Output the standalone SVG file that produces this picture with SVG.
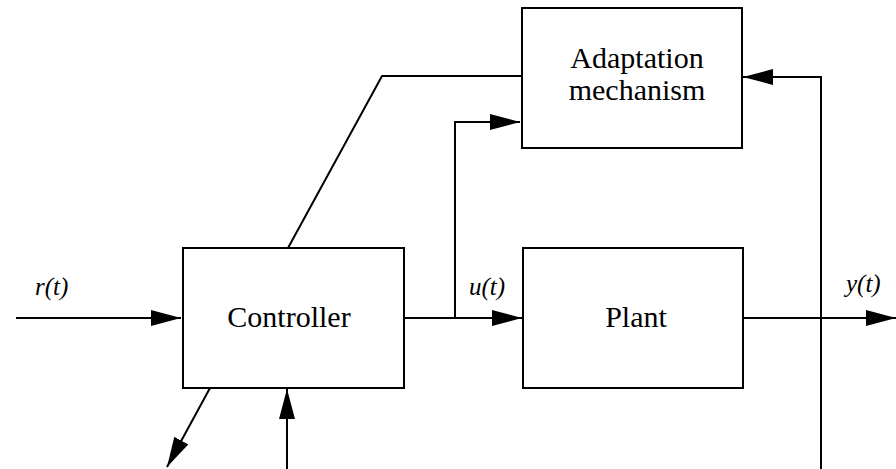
<svg xmlns="http://www.w3.org/2000/svg" width="896" height="469" viewBox="0 0 896 469">
  <style>
    .box { fill: #fff; stroke: #000; stroke-width: 2; }
    .wire { fill: none; stroke: #000; stroke-width: 2; }
    text { font-family: 'Liberation Serif', 'Times New Roman', serif; fill: #000; }
    .label { font-size: 30px; text-anchor: middle; }
    .sig { font-size: 25px; font-style: italic; }
  </style>
  <defs>
    <marker id="arrow" markerUnits="userSpaceOnUse" markerWidth="30" markerHeight="16" viewBox="0 0 30 16" refX="30" refY="8" orient="auto">
      <path d="M0,0 L30,8 L0,16 Z" fill="#000"/>
    </marker>
  </defs>

  <rect width="896" height="469" fill="#fff"/>

  <!-- connectors -->
  <g id="connectors">
    <!-- reference input -->
    <line class="wire" x1="16" y1="318" x2="181" y2="318" marker-end="url(#arrow)"/>
    <!-- control signal to plant -->
    <line class="wire" x1="404" y1="318" x2="522" y2="318" marker-end="url(#arrow)"/>
    <!-- control signal branch to adaptation -->
    <polyline class="wire" points="455,318 455,122 520,122" marker-end="url(#arrow)"/>
    <!-- parameter link between controller and adaptation -->
    <polyline class="wire" points="288,248 382,76 522,76"/>
    <!-- plant output -->
    <line class="wire" x1="742" y1="318" x2="896" y2="318" marker-end="url(#arrow)"/>
    <!-- output feedback to adaptation -->
    <polyline class="wire" points="821,469 821,77 743,77" marker-end="url(#arrow)"/>
    <!-- controller bottom ports -->
    <line class="wire" x1="210" y1="388" x2="167" y2="467" marker-end="url(#arrow)"/>
    <line class="wire" x1="287" y1="469" x2="287" y2="389" marker-end="url(#arrow)"/>
  </g>

  <g id="controller">
    <rect class="box" x="183" y="248" width="221" height="140"/>
    <text class="label" x="289" y="327">Controller</text>
  </g>

  <g id="plant">
    <rect class="box" x="523" y="248" width="220" height="140"/>
    <text class="label" x="636" y="327">Plant</text>
  </g>

  <g id="adaptation">
    <rect class="box" x="522" y="8" width="220" height="140"/>
    <text class="label" x="637" y="68">Adaptation</text>
    <text class="label" x="637" y="100">mechanism</text>
  </g>

  <g id="signal-labels">
    <text class="sig" x="35" y="295">r(t)</text>
    <text class="sig" x="469" y="295">u(t)</text>
    <text class="sig" x="846" y="292">y(t)</text>
  </g>
</svg>
